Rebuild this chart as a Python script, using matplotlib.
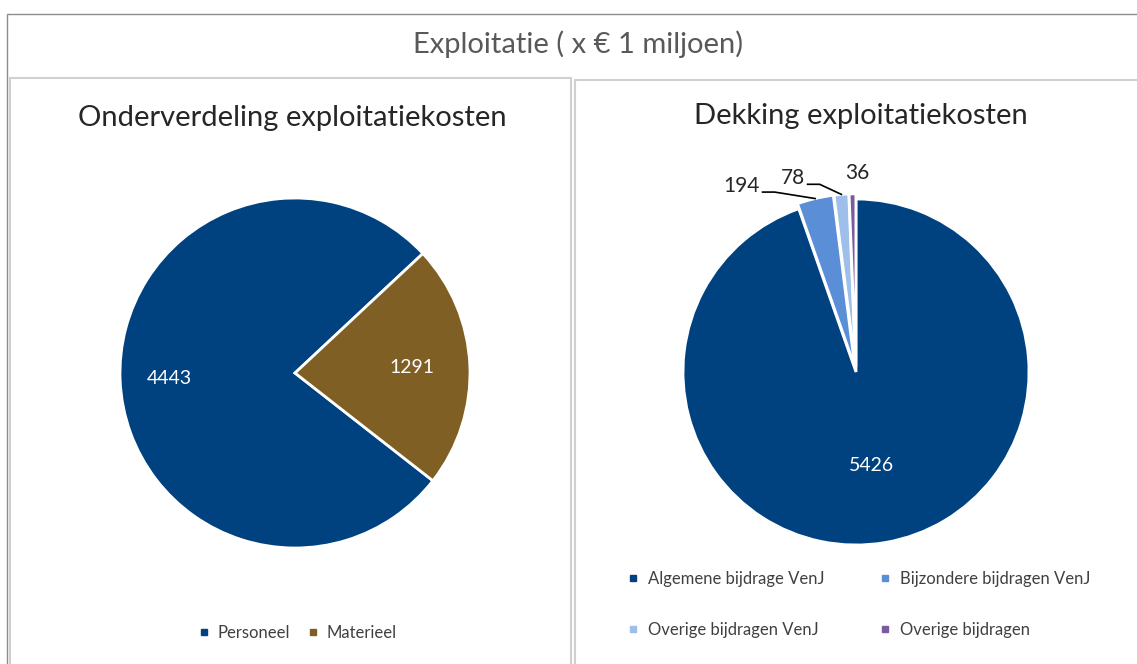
#!/usr/bin/env python3

import matplotlib.pyplot as plt
from matplotlib.lines import Line2D
from matplotlib.patches import Rectangle
import numpy as np

plt.rcParams['font.family'] = ['Lato', 'DejaVu Sans']

W, H = 1137, 664

# data
main_title = 'Exploitatie ( x € 1 miljoen)'

cost_title = 'Onderverdeling exploitatiekosten'
cost_labels = ['Personeel', 'Materieel']
cost_values = [4443, 1291]
cost_colors = ['#00427F', '#7F5F24']

cover_title = 'Dekking exploitatiekosten'
cover_labels = ['Algemene bijdrage VenJ', 'Bijzondere bijdragen VenJ',
                'Overige bijdragen VenJ', 'Overige bijdragen']
cover_values = [5426, 194, 78, 36]
cover_colors = ['#00427F', '#5A8ED6', '#9DBFEA', '#7B5BA0']


def px_axes(fig, cx, cy, r):
    # axes box centred on pixel (cx, cy) with radius r
    return fig.add_axes([(cx - r) / W, (H - cy - r) / H, 2 * r / W, 2 * r / H])


def legend_handles(colors):
    return [Line2D([], [], marker='s', linestyle='none', markersize=4,
                   markerfacecolor=c, markeredgecolor=c) for c in colors]


fig = plt.figure(figsize=(W / 100, H / 100), dpi=100)
fig.patch.set_facecolor('white')

# outer frame and panel frames
fig.add_artist(Rectangle((7 / W, -0.1), 1.2, (H - 14) / H + 0.1, transform=fig.transFigure,
                         fill=False, edgecolor='#8c8c8c', linewidth=1.0))
fig.add_artist(Rectangle((10 / W, -0.1), 561 / W, (H - 78) / H + 0.1, transform=fig.transFigure,
                         fill=False, edgecolor='#d0d0d0', linewidth=1.5))
fig.add_artist(Rectangle((575 / W, -0.1), 1.0, (H - 80) / H + 0.1, transform=fig.transFigure,
                         fill=False, edgecolor='#d0d0d0', linewidth=1.5))

fig.text(578 / W, 1 - 44 / H, main_title, ha='center', va='center',
         fontsize=21, color='#595959')
fig.text(292 / W, 1 - 118 / H, cost_title, ha='center', va='center',
         fontsize=21, color='#262626')
fig.text(861 / W, 1 - 116 / H, cover_title, ha='center', va='center',
         fontsize=21, color='#262626')

# left pie
ax1 = px_axes(fig, 295, 373, 175)
wedges1, _ = ax1.pie(cost_values, colors=cost_colors, startangle=-38, counterclock=False,
                     radius=1, wedgeprops=dict(edgecolor='white', linewidth=2))
ax1.set_xlim(-1, 1)
ax1.set_ylim(-1, 1)
ax1.set_aspect('equal')
ax1.axis('off')
for w, v, dist in zip(wedges1, cost_values, [0.72, 0.67]):
    ang = np.deg2rad((w.theta1 + w.theta2) / 2)
    ax1.text(dist * np.cos(ang), dist * np.sin(ang), str(v), ha='center', va='center',
             color='white', fontsize=14)

fig.legend(legend_handles(cost_colors), cost_labels, loc='center',
           bbox_to_anchor=(298 / W, 1 - 633 / H), ncol=2, frameon=False,
           fontsize=12, handlelength=0.6, handletextpad=0.5, columnspacing=1.1,
           labelcolor='#404040')

# right pie
ax2 = px_axes(fig, 856, 372, 173)
explode = [0, 0.03, 0.03, 0.03]
wedges2, _ = ax2.pie(cover_values, colors=cover_colors, startangle=90, counterclock=False,
                     radius=1, explode=explode,
                     wedgeprops=dict(edgecolor='white', linewidth=2))
ax2.set_xlim(-1, 1)
ax2.set_ylim(-1, 1)
ax2.set_aspect('equal')
ax2.axis('off')

ang = np.deg2rad((wedges2[0].theta1 + wedges2[0].theta2) / 2)
ax2.text(0.55 * np.cos(ang), 0.55 * np.sin(ang), str(cover_values[0]), ha='center',
         va='center', color='white', fontsize=14)

# outside labels for the small slices: start of leader line, in pie units
label_pos = [None, (-0.54, 1.04), (-0.28, 1.085), (0.01, 1.09)]
for w, v, pos, ex in zip(wedges2, cover_values, label_pos, explode):
    if pos is None:
        continue
    a = np.deg2rad((w.theta1 + w.theta2) / 2)
    tip = ((1 + ex) * np.cos(a), (1 + ex) * np.sin(a))
    if v == 36:
        ax2.text(pos[0], pos[1], str(v), ha='center', va='bottom', fontsize=15,
                 color='#262626')
        continue
    elbow = (pos[0] + 0.07, pos[1])
    ax2.plot([pos[0], elbow[0], tip[0]], [pos[1], elbow[1], tip[1]],
             color='black', linewidth=1.2, clip_on=False)
    ax2.text(pos[0] - 0.015, pos[1] + 0.035, str(v), ha='right', va='center', fontsize=15,
             color='#262626')

# legend is filled row by row in the reference
order = [0, 2, 1, 3]
fig.legend([legend_handles(cover_colors)[i] for i in order],
           [cover_labels[i] for i in order], loc='upper left',
           bbox_to_anchor=(613 / W, 1 - 556 / H), ncol=2, frameon=False,
           fontsize=12, handlelength=0.6, handletextpad=0.6, columnspacing=3.3,
           labelspacing=2.1, labelcolor='#404040')

fig.savefig('out.png', dpi=100)
